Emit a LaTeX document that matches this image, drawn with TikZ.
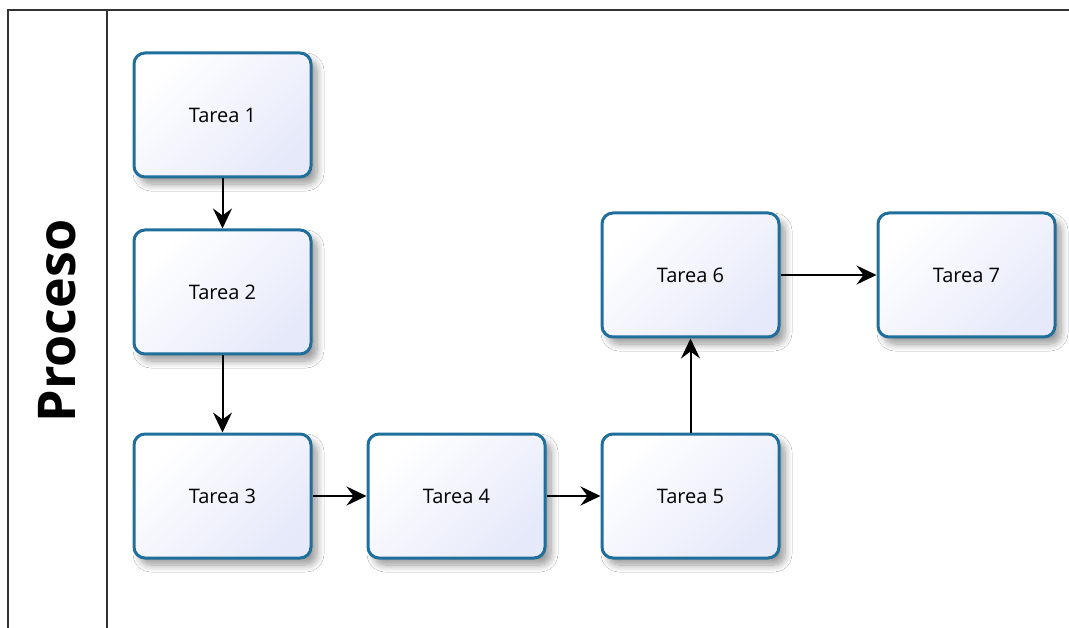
\documentclass[tikz,border=0pt]{standalone}
\usepackage{fontspec}
\setmainfont{Open Sans}
\usetikzlibrary{arrows.meta,shadows.blur}
\definecolor{boxborder}{HTML}{1F6E9C}
\definecolor{boxfill}{HTML}{E6E9FA}
\definecolor{framecol}{HTML}{333333}
\tikzset{
  task/.style={draw=boxborder, line width=3pt, rounded corners=11pt,
    minimum width=177pt, minimum height=124pt, inner sep=0pt,
    top color=white, bottom color=boxfill, shading angle=45,
    font=\fontsize{20}{22}\selectfont,
    blur shadow={shadow xshift=6pt, shadow yshift=-7pt, shadow blur steps=10, shadow opacity=40, shadow blur radius=7pt}},
  flow/.style={draw=black, line width=2pt, -{Stealth[length=20pt,width=19pt,inset=7pt]}},
  frame/.style={draw=framecol, line width=1.8pt}
}
\begin{document}
\begin{tikzpicture}[x=1pt,y=-1pt]
\useasboundingbox[fill=white] (0,0) rectangle (1069,628);
\coordinate (tl) at (8,10);
\coordinate (tr) at (1069,10);
\coordinate (bl) at (8,628);
\coordinate (dt) at (107,10);
\coordinate (db) at (107,628);
\draw[frame] (tr) -- (tl) -- (bl);
\draw[frame] (dt) -- (db);
\node[rotate=90, font=\bfseries\fontsize{52}{56}\selectfont] (lane) at (57,321) {Proceso};
\node[task] (t1) at (222.5,115) {Tarea 1};
\node[task] (t2) at (222.5,292) {Tarea 2};
\node[task] (t3) at (222.5,496) {Tarea 3};
\node[task] (t4) at (456.5,496) {Tarea 4};
\node[task] (t5) at (690.5,496) {Tarea 5};
\node[task] (t6) at (690.5,275) {Tarea 6};
\node[task] (t7) at (966.5,275) {Tarea 7};
\draw[flow] (t1) -- (t2);
\draw[flow] (t2) -- (t3);
\draw[flow] (t3) -- (t4);
\draw[flow] (t4) -- (t5);
\draw[flow] (t5) -- (t6);
\draw[flow] (t6) -- (t7);
\end{tikzpicture}
\end{document}
